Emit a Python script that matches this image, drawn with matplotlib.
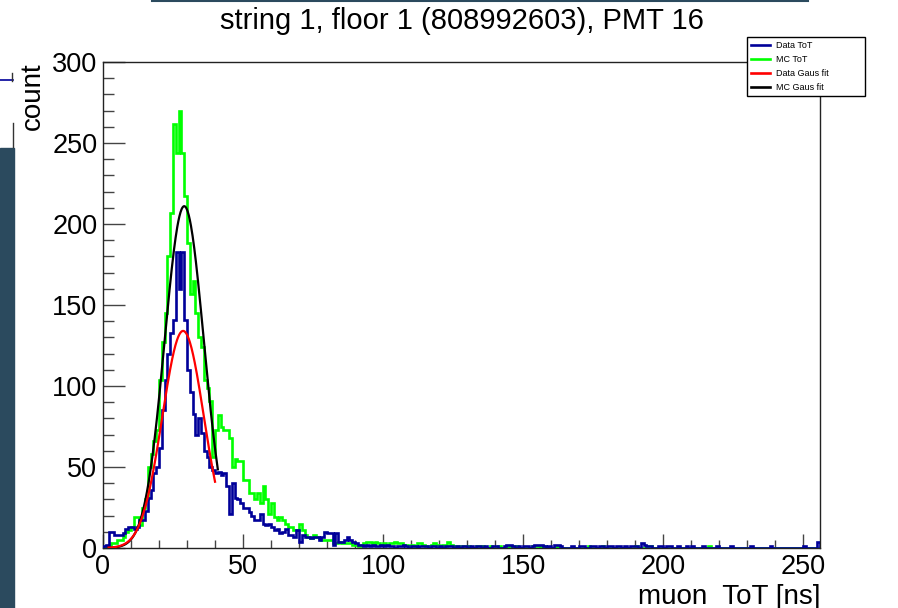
import numpy as np
import matplotlib
matplotlib.use("Agg")
import matplotlib.pyplot as plt
from matplotlib.patches import Rectangle
from matplotlib.lines import Line2D

plt.rcParams["font.family"] = ["Liberation Sans", "DejaVu Sans"]

title = "string 1, floor 1 (808992603), PMT 16"
x_label = "muon  ToT [ns]"
y_label = "count"
labels = ["Data ToT", "MC ToT", "Data Gaus fit", "MC Gaus fit"]

# 1 ns bins from 0 to 256 ns
bin_edges = np.arange(0, 257, 1)

# Data ToT counts, bins 0..99
data_head = [1, 2, 10, 10, 8, 8, 8, 9, 12, 13,
             13, 12, 13, 17, 17, 23, 31, 36, 46, 50,
             62, 85, 104, 120, 133, 141, 183, 160, 183, 141,
             110, 96, 83, 70, 80, 71, 60, 56, 50, 48,
             46, 47, 45, 46, 38, 21, 40, 31, 30, 28,
             25, 25, 22, 20, 17, 17, 21, 15, 14, 15,
             13, 11, 12, 9, 10, 12, 8, 8, 7, 11,
             4, 8, 7, 7, 6, 7, 7, 5, 7, 10,
             9, 9, 2, 9, 4, 4, 5, 7, 5, 4,
             3, 2, 2, 1, 2, 1, 2, 1, 1, 2]
# Data ToT counts, bins 100..255
data_tail = [1, 2, 1, 1, 0, 1, 1, 2, 1, 0, 1, 1, 0, 1, 1, 1, 0, 1, 1, 0,
             1, 0, 1, 1, 1, 0, 1, 0, 1, 1, 0, 1, 0, 1, 1, 0, 1, 0, 0, 1,
             1, 0, 0, 1, 2, 2, 1, 0, 1, 0, 1, 1, 0, 1, 2, 2, 2, 1, 0, 1,
             0, 2, 2, 1, 0, 0, 0, 1, 0, 0, 1, 1, 0, 0, 1, 1, 0, 1, 1, 0,
             1, 1, 0, 1, 1, 0, 1, 0, 1, 1, 1, 0, 3, 2, 1, 1, 0, 0, 1, 1,
             0, 1, 1, 0, 0, 1, 0, 0, 1, 0, 1, 0, 0, 0, 1, 0, 0, 0, 0, 1,
             0, 0, 0, 0, 1, 0, 0, 0, 0, 0, 0, 1, 0, 0, 0, 0, 0, 0, 1, 0,
             0, 0, 0, 0, 0, 0, 0, 0, 0, 0, 1, 0, 0, 0, 0, 4]

# MC ToT counts, bins 0..99
mc_head = [0, 1, 2, 3, 3, 5, 5, 7, 10, 11,
           13, 19, 19, 14, 25, 30, 50, 58, 66, 73,
           104, 127, 145, 180, 207, 262, 244, 270, 244, 217,
           188, 157, 165, 145, 130, 124, 104, 99, 91, 56,
           73, 82, 75, 73, 73, 68, 50, 55, 54, 54,
           42, 42, 34, 34, 30, 34, 28, 38, 30, 21,
           28, 19, 17, 19, 17, 15, 13, 13, 11, 11,
           15, 11, 8, 7, 6, 8, 7, 6, 5, 5,
           5, 5, 3, 3, 4, 3, 3, 3, 3, 2,
           2, 1, 2, 3, 4, 4, 3, 4, 3, 2]
# MC ToT counts, bins 100..255
mc_tail = [3, 2, 3, 3, 4, 3, 3, 2, 2, 1, 2, 1, 3, 3, 2, 1, 1, 2, 3, 2,
           1, 2, 1, 4, 2, 1, 1, 0, 1, 0, 1, 0, 0, 1, 1, 1, 0, 0, 1, 0,
           0, 1, 0, 0, 0, 1, 0, 1, 0, 0, 0, 0, 0, 1, 1, 1, 0, 1, 0, 0,
           0, 0, 1, 0, 0, 0, 0, 0, 0, 0, 0, 0, 0, 1, 0, 0, 0, 0, 1, 0,
           0, 0, 0, 0, 0, 0, 0, 0, 0, 0, 1, 0, 0, 0, 1, 1, 0, 0, 0, 0,
           0, 0, 0, 0, 0, 0, 0, 0, 0, 0, 0, 0, 0, 0, 0, 0, 1, 0, 0, 0,
           0, 0, 0, 0, 0, 0, 0, 0, 0, 0, 0, 0, 0, 0, 0, 0, 0, 0, 0, 0,
           0, 0, 0, 0, 0, 0, 0, 0, 0, 0, 0, 0, 0, 0, 0, 0]

data_counts = data_head + data_tail
mc_counts = mc_head + mc_tail

# gaussian fit parameters: amplitude, mean, sigma, range
data_fit = (134, 28.6, 7.4, 2, 40)
mc_fit = (211, 29.0, 7.0, 2, 41)


def gaus_curve(amp, mean, sigma, lo, hi):
    x = np.linspace(lo, hi, 200)
    return x, amp * np.exp(-0.5 * ((x - mean) / sigma) ** 2)


W, H = 898, 608
fig = plt.figure(figsize=(W / 100, H / 100), dpi=100)
ax = fig.add_axes([103 / W, 1 - 548 / H, (820 - 103) / W, (548 - 62) / H])

ax.stairs(mc_counts, bin_edges, color="#00ff00", lw=1.9, baseline=0, zorder=2)
ax.stairs(data_counts, bin_edges, color="#000099", lw=1.9, baseline=0, zorder=3)
xb, yb = gaus_curve(*mc_fit)
ax.plot(xb, yb, color="black", lw=1.6, zorder=4)
xr, yr = gaus_curve(*data_fit)
ax.plot(xr, yr, color="red", lw=1.6, zorder=5)

ax.set_xlim(0, 256)
ax.set_ylim(0, 300)
ax.set_xticks([0, 50, 100, 150, 200, 250])
ax.set_xticks(np.arange(0, 257, 10), minor=True)
ax.set_yticks([0, 50, 100, 150, 200, 250, 300])
ax.set_yticks(np.arange(0, 301, 10), minor=True)
ax.tick_params(axis="both", which="both", direction="in", top=False, right=False,
               labelsize=19.5, color="#444444", width=1.0)
ax.tick_params(axis="y", which="major", length=15.8, pad=4)
ax.tick_params(axis="y", which="minor", length=7.9)
ax.tick_params(axis="x", which="major", length=10, pad=4)
ax.tick_params(axis="x", which="minor", length=5.8)
for sp in ax.spines.values():
    sp.set_color("#222222")
    sp.set_linewidth(1.0)

fig.text(462 / W, 1 - 21 / H, title, ha="center", va="center", fontsize=21)
fig.text(33 / W, 1 - 62 / H, y_label, rotation=90, ha="center", va="top", fontsize=20)
fig.text(820 / W, 1 - 604 / H, x_label, ha="right", va="baseline", fontsize=20)

handles = [Line2D([], [], color="#000099", lw=1.9),
           Line2D([], [], color="#00ff00", lw=1.9),
           Line2D([], [], color="red", lw=1.9),
           Line2D([], [], color="black", lw=1.9)]
leg = fig.legend(handles, labels, loc="upper left",
                 bbox_to_anchor=(747 / W, 1 - 93 / H, (865 - 747) / W, (93 - 37) / H),
                 bbox_transform=fig.transFigure, mode="expand", fontsize=6.5,
                 frameon=True, fancybox=False, framealpha=1, edgecolor="black",
                 borderaxespad=0, borderpad=0.45, handlelength=2.1, handletextpad=0.65,
                 labelspacing=0.55)
leg.get_frame().set_linewidth(1.0)
leg.set_zorder(10)

# screenshot leftovers around the canvas
slate = "#2b4a5e"
fig.patches.append(Rectangle((0, 0), 14 / W, (H - 148) / H, transform=fig.transFigure,
                             color=slate, zorder=0))
fig.lines.append(Line2D([152 / W, 808 / W], [1 - 1 / H, 1 - 1 / H], transform=fig.transFigure,
                        color=slate, lw=1.5))
fig.lines.append(Line2D([0, 13 / W], [1 - 80 / H, 1 - 80 / H], transform=fig.transFigure,
                        color="#000099", lw=1.2))
fig.lines.append(Line2D([12 / W, 12 / W], [1 - 73 / H, 1 - 81 / H], transform=fig.transFigure,
                        color="#333333", lw=1.0))
fig.lines.append(Line2D([13 / W, 13 / W], [1 - 123 / H, 1 - 147 / H], transform=fig.transFigure,
                        color="#333333", lw=1.0))

fig.savefig("out.png", dpi=100)
